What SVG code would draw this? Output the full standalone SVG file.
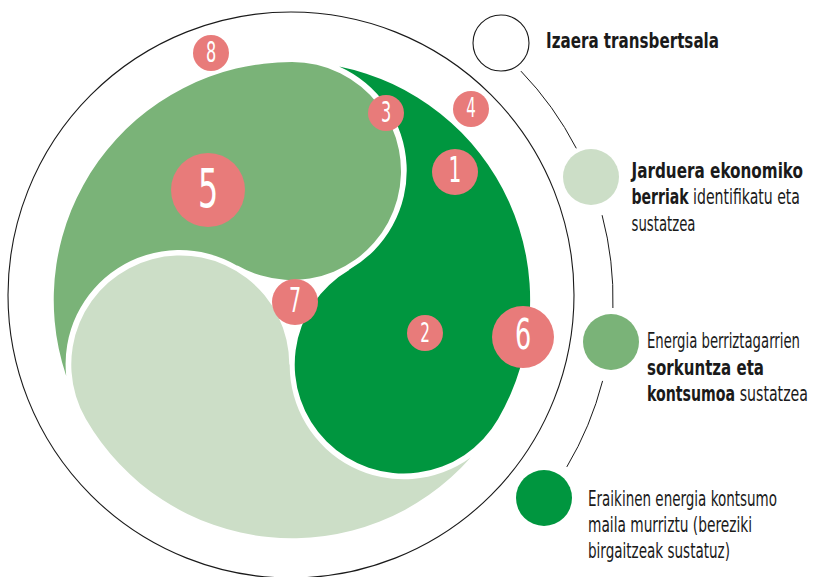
<svg xmlns="http://www.w3.org/2000/svg" width="814" height="577" viewBox="0 0 814 577">
<style>
.ring{fill:none;stroke:#1a1a1a;stroke-width:1.1}
.con{fill:none;stroke:#1a1a1a;stroke-width:1}
.pink{fill:#E87B7A}
.num{fill:#ffffff;font-family:'Liberation Sans Narrow','DejaVu Sans Condensed','Liberation Sans',sans-serif;text-anchor:middle}
.lt{font-family:'Liberation Sans Narrow','DejaVu Sans Condensed','Liberation Sans',sans-serif;font-size:21.5px;fill:#1a1a1a}
.b{font-weight:bold}
</style>
<defs>
<path id="comma" d="M 292,62 A 109 109 0 1 1 237.5,265.4 L 237.28,265.77 A 114 114 0 0 0 66.2,376 A 238 238 0 0 1 292,62 Z"/>
</defs>
<circle class="ring" cx="291" cy="295" r="283"/>
<g id="segment-medium"><use href="#comma" fill="#7AB378"/></g>
<g id="segment-dark"><use href="#comma" fill="#00963F" transform="rotate(120 292 300)"/></g>
<g id="segment-light"><use href="#comma" fill="#CCDEC7" transform="rotate(240 292 300)"/></g>
<g id="connectors">
<path class="con" d="M 520.9,71.1 A 328 328 0 0 1 576.3,148.3"/>
<path class="con" d="M 602.1,215.2 A 328 328 0 0 1 612.9,308.0"/>
<path class="con" d="M 602.6,380.9 A 328 328 0 0 1 566.8,466.9"/>
</g>
<g id="n8"><circle class="pink" cx="211" cy="53" r="18"/><text class="num" font-size="28" transform="translate(211,62) scale(0.64,1)">8</text></g>
<g id="n3"><circle class="pink" cx="386" cy="113" r="18"/><text class="num" font-size="28" transform="translate(386,121.5) scale(0.64,1)">3</text></g>
<g id="n4"><circle class="pink" cx="471" cy="109" r="18"/><text class="num" font-size="26" transform="translate(471,117) scale(0.64,1)">4</text></g>
<g id="n1"><circle class="pink" cx="455" cy="172" r="23"/><text class="num" font-size="35" transform="translate(455,181.5) scale(0.64,1)">1</text></g>
<g id="n5"><circle class="pink" cx="208" cy="190" r="37"/><text class="num" font-size="53.5" transform="translate(208,206.5) scale(0.66,1)">5</text></g>
<g id="n7"><circle class="pink" cx="295" cy="302" r="23"/><text class="num" font-size="33" transform="translate(295,311.5) scale(0.64,1)">7</text></g>
<g id="n2"><circle class="pink" cx="425" cy="333" r="18"/><text class="num" font-size="26.5" transform="translate(425,341.5) scale(0.64,1)">2</text></g>
<g id="n6"><circle class="pink" cx="523" cy="337" r="31"/><text class="num" font-size="43" transform="translate(523,349) scale(0.66,1)">6</text></g>
<g id="legend-transversal">
<circle cx="501" cy="43" r="28" fill="#ffffff" stroke="#1a1a1a" stroke-width="1.1"/>
<text class="lt b" x="546" y="47.5" textLength="173" lengthAdjust="spacingAndGlyphs">Izaera transbertsala</text>
</g>
<g id="legend-light">
<circle cx="591" cy="177" r="28" fill="#CCDEC7"/>
<text class="lt b" x="631.5" y="178.3" textLength="171.5" lengthAdjust="spacingAndGlyphs">Jarduera ekonomiko</text>
<text class="lt" x="631.5" y="204.3" textLength="168.5" lengthAdjust="spacingAndGlyphs"><tspan class="b">berriak</tspan> identifikatu eta</text>
<text class="lt" x="631.5" y="231" textLength="64" lengthAdjust="spacingAndGlyphs">sustatzea</text>
</g>
<g id="legend-medium">
<circle cx="611" cy="342" r="28" fill="#7AB378"/>
<text class="lt" x="647" y="347.5" textLength="153" lengthAdjust="spacingAndGlyphs">Energia berriztagarrien</text>
<text class="lt b" x="647" y="374.5" textLength="117" lengthAdjust="spacingAndGlyphs">sorkuntza eta</text>
<text class="lt" x="647" y="401" textLength="161" lengthAdjust="spacingAndGlyphs"><tspan class="b">kontsumoa</tspan> sustatzea</text>
</g>
<g id="legend-dark">
<circle cx="544" cy="498" r="28" fill="#00963F"/>
<text class="lt" x="588" y="506" textLength="189" lengthAdjust="spacingAndGlyphs">Eraikinen energia kontsumo</text>
<text class="lt" x="588" y="532" textLength="164" lengthAdjust="spacingAndGlyphs">maila murriztu (bereziki</text>
<text class="lt" x="588" y="558" textLength="142" lengthAdjust="spacingAndGlyphs">birgaitzeak sustatuz)</text>
</g>
</svg>
